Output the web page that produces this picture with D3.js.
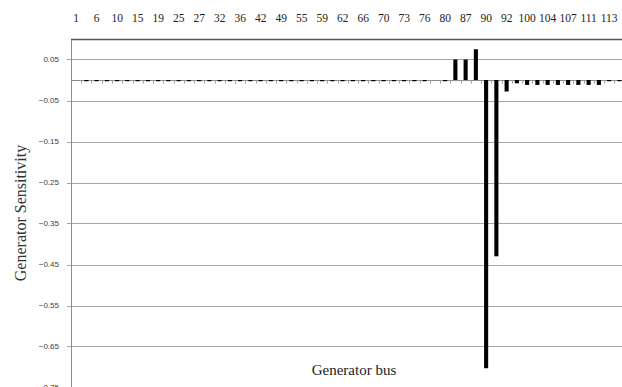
<!DOCTYPE html>
<html>
<head>
<meta charset="utf-8">
<script src="https://cdn.jsdelivr.net/npm/d3@7"></script>
<style>
  body { margin: 0; background: #fff; }
  svg { display: block; }
</style>
</head>
<body>
<div id="chart"></div>
<script>
// generator buses (IEEE 118-bus system)
var buses = [1, 4, 6, 8, 10, 12, 15, 18, 19, 24, 25, 26, 27, 31, 32, 34, 36, 40,
  42, 46, 49, 54, 55, 56, 59, 61, 62, 65, 66, 69, 70, 72, 73, 74, 76, 77,
  80, 85, 87, 89, 90, 91, 92, 99, 100, 103, 104, 105, 107, 110, 111, 112, 113, 116];

// sensitivity
var sensitivity = [0, -0.003, -0.003, -0.003, -0.003, -0.003, -0.003, -0.003, -0.003,
  -0.003, -0.003, -0.003, -0.003, -0.003, -0.003, -0.003, -0.003, -0.003,
  -0.003, -0.003, -0.003, -0.003, -0.003, -0.003, -0.003, -0.003, -0.003,
  -0.003, -0.003, -0.003, -0.003, -0.003, -0.003, -0.003, -0.003, 0,
  -0.003, 0.05, 0.05, 0.075, -0.703, -0.43, -0.028, -0.008, -0.012, -0.012,
  -0.012, -0.012, -0.012, -0.012, -0.012, -0.012, -0.003, -0.003];

// y tick values
var yTicks = [0.05, -0.05, -0.15, -0.25, -0.35, -0.45, -0.55, -0.65, -0.75];

var svgWidth = 622;
var svgHeight = 387;

var svg = d3.select("#chart").append("svg")
  .attr("width", svgWidth)
  .attr("height", svgHeight);

var plotLeft = 71, plotRight = 624.5, plotTop = 39, plotBottom = 408;

var data = buses.map(function(b, i) { return { bus: b, value: sensitivity[i] }; });

var xScale = d3.scaleBand()
  .domain(buses)
  .range([plotLeft, plotRight])
  .paddingInner(0.6)
  .paddingOuter(0.3);

var yScale = d3.scaleLinear()
  .domain([0.1, -0.8])
  .range([plotTop, plotBottom]);

var step = xScale.step();

// gridlines
svg.append("g").selectAll("line")
  .data(yTicks)
  .enter()
  .append("line")
  .attr("x1", plotLeft - 4)
  .attr("x2", svgWidth)
  .attr("y1", d => Math.round(yScale(d)) + 0.5)
  .attr("y2", d => Math.round(yScale(d)) + 0.5)
  .attr("stroke", "#a6a6a6")
  .attr("stroke-width", 1);

// y labels
svg.append("g").selectAll("text")
  .data(yTicks)
  .enter()
  .append("text")
  .attr("x", 59)
  .attr("y", d => yScale(d))
  .attr("dy", "0.35em")
  .attr("text-anchor", "end")
  .attr("font-family", "Liberation Sans, Arial, sans-serif")
  .attr("font-size", 8)
  .attr("fill", "#404040")
  .text(d => d3.format(".2f")(d));

// left axis line
svg.append("line")
  .attr("x1", plotLeft + 0.5).attr("x2", plotLeft + 0.5)
  .attr("y1", plotTop).attr("y2", svgHeight)
  .attr("stroke", "#8c8c8c");

// top border
svg.append("line")
  .attr("x1", plotLeft).attr("x2", svgWidth)
  .attr("y1", plotTop + 0.5).attr("y2", plotTop + 0.5)
  .attr("stroke", "#555")
  .attr("stroke-width", 1.3);

// zero line (category axis)
var y0 = Math.round(yScale(0)) + 0.5;
svg.append("line")
  .attr("x1", plotLeft).attr("x2", svgWidth)
  .attr("y1", y0).attr("y2", y0)
  .attr("stroke", "#8c8c8c");

// category tick marks
svg.append("g").selectAll("line")
  .data(buses.slice(1))
  .enter()
  .append("line")
  .attr("x1", d => Math.round(xScale(d) - step * 0.3) + 0.5)
  .attr("x2", d => Math.round(xScale(d) - step * 0.3) + 0.5)
  .attr("y1", y0)
  .attr("y2", y0 + 3)
  .attr("stroke", "#a0a0a0");

// bars
svg.append("g").selectAll("rect")
  .data(data)
  .enter()
  .append("rect")
  .attr("x", d => xScale(d.bus))
  .attr("width", xScale.bandwidth())
  .attr("y", d => yScale(Math.max(0, d.value)))
  .attr("height", d => Math.abs(yScale(d.value) - yScale(0)))
  .attr("fill", "#000");

// top category labels (every other bus)
svg.append("g").selectAll("text")
  .data(buses.filter((d, i) => i % 2 === 0))
  .enter()
  .append("text")
  .attr("x", d => xScale(d) + xScale.bandwidth() / 2)
  .attr("y", 22)
  .attr("text-anchor", "middle")
  .attr("font-family", "Liberation Serif, Times New Roman, serif")
  .attr("font-size", 11.5)
  .attr("fill", "#222")
  .text(d => d);

// axis titles
svg.append("text")
  .attr("transform", "translate(26, 213) rotate(-90)")
  .attr("text-anchor", "middle")
  .attr("font-family", "Liberation Serif, Times New Roman, serif")
  .attr("font-size", 16)
  .attr("fill", "#333")
  .text("Generator Sensitivity");

svg.append("text")
  .attr("x", 354)
  .attr("y", 375)
  .attr("text-anchor", "middle")
  .attr("font-family", "Liberation Serif, Times New Roman, serif")
  .attr("font-size", 15)
  .attr("fill", "#222")
  .text("Generator bus");
</script>
</body>
</html>
